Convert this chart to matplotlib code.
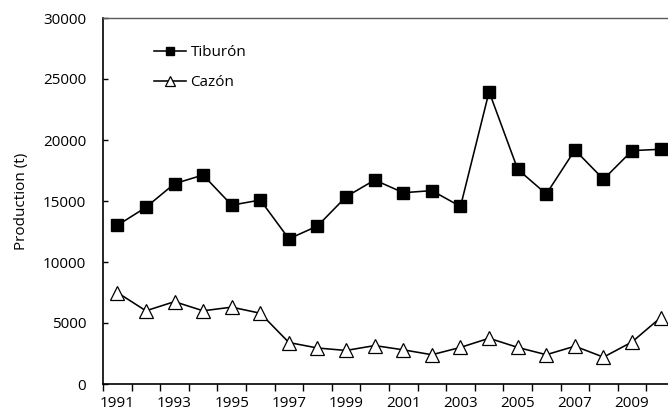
import matplotlib
matplotlib.use("Agg")
import matplotlib.pyplot as plt
import numpy as np

years = list(range(1991, 2011))
tiburon = [13000, 14480, 16420, 17130, 14660, 15080, 11900, 12950, 15350, 16720,
           15680, 15850, 14550, 23960, 17600, 15570, 19180, 16780, 19130, 19240]
cazon = [7500, 6000, 6750, 6000, 6300, 5800, 3400, 2950, 2750, 3150,
         2800, 2400, 3000, 3750, 3000, 2400, 3100, 2200, 3450, 5450]
y_ticks = [0, 5000, 10000, 15000, 20000, 25000, 30000]
label_years = [y for y in years if y % 2 == 1]

plt.rcParams['font.family'] = ['Open Sans', 'DejaVu Sans']
FS = 11

fig = plt.figure(figsize=(6.68, 4.13), dpi=100)
ax = fig.add_axes([103/668, 1 - 384/413, (675-103)/668, (384-18)/413])

x = np.arange(len(years))
ax.plot(x, tiburon, color='black', lw=1.15, marker='s', markersize=8.8,
        markerfacecolor='black', markeredgecolor='black', label='Tiburón', zorder=3)
ax.plot(x, cazon, color='black', lw=1.15, marker='^', markersize=10.3,
        markerfacecolor='white', markeredgecolor='black', markeredgewidth=0.9,
        label='Cazón', zorder=3)

ax.set_xlim(-0.5, len(years) - 0.5)
ax.set_ylim(0, 30000)
ax.set_yticks(y_ticks)
ax.set_yticklabels([str(v) for v in y_ticks], fontsize=FS)

ax.set_xticks([years.index(y) for y in label_years])
ax.set_xticklabels([str(y) for y in label_years], fontsize=FS)
ax.set_xticks(np.arange(-0.5, len(years)), minor=True)
ax.tick_params(axis='x', which='major', length=0, pad=8.5)
ax.tick_params(axis='x', which='minor', length=5, width=1.0, color='black', direction='out')
ax.tick_params(axis='y', length=3.5, width=1.0, direction='in', pad=12)

for s in ['left', 'bottom']:
    ax.spines[s].set_color('black')
    ax.spines[s].set_linewidth(1.2)
for s in ['top', 'right']:
    ax.spines[s].set_color('#595959')
    ax.spines[s].set_linewidth(1.0)

ax.set_ylabel('Production (t)', fontsize=FS, labelpad=10)

leg = ax.legend(loc='upper left', bbox_to_anchor=(0.089, 0.925), frameon=False,
                fontsize=FS, handlelength=2.1, handletextpad=0.3, labelspacing=0.95,
                borderaxespad=0, borderpad=0, markerscale=0.7)

fig.savefig('out.png', dpi=100)
